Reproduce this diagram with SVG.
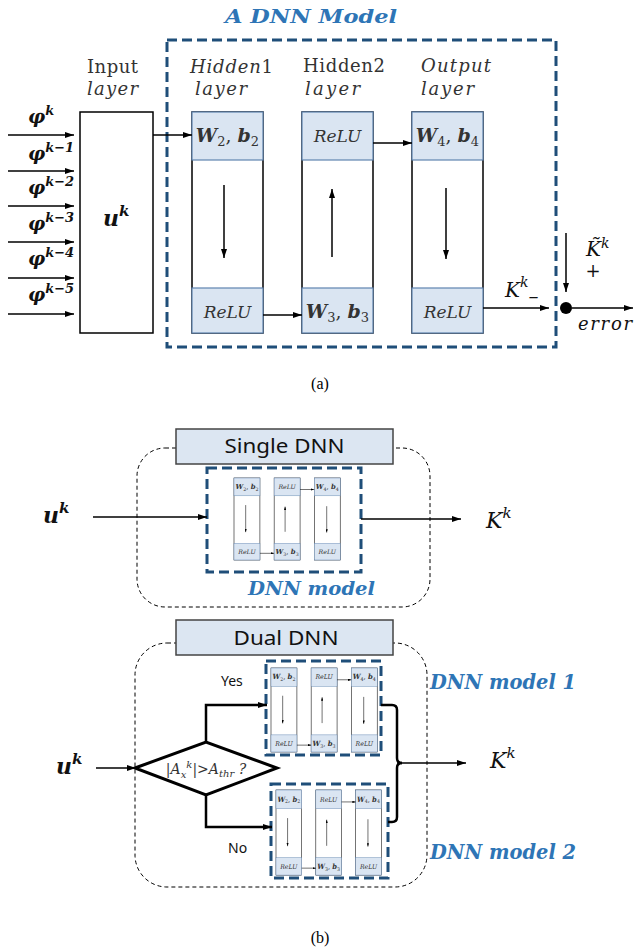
<svg xmlns="http://www.w3.org/2000/svg" width="635" height="950" viewBox="0 0 635 950">
<style>
.col{fill:#fff;stroke:#000;stroke-width:1.5}
.cell{fill:#dae5f2;stroke:#5f84b0;stroke-width:1.2}
.bd{fill:none;stroke:#1f4e79;stroke-width:3;stroke-dasharray:10 5}
.ln{fill:none;stroke:#000;stroke-width:1.5}
.thk{fill:none;stroke:#000;stroke-width:2.5}
.od{fill:none;stroke:#000;stroke-width:1;stroke-dasharray:4 3}
.lb{fill:#dce6f2;stroke:#444;stroke-width:1.5}
.m{font-family:"DejaVu Serif","Liberation Serif",serif;fill:#333}
.k{font-family:"DejaVu Serif","Liberation Serif",serif;fill:#111}
.it{font-style:italic}
.bi{font-weight:bold;font-style:italic}
.n{font-weight:normal;font-style:normal}
.ttl{font-family:"DejaVu Serif","Liberation Serif",serif;font-weight:bold;font-style:italic;fill:#2e75b6}
.sans{font-family:"Noto Sans","Liberation Sans",sans-serif;fill:#111}
.cap{font-family:"Liberation Serif",serif;font-size:16px;fill:#000}
</style>
<defs>
<marker id="ah" markerWidth="9" markerHeight="6" refX="9" refY="3" orient="auto" markerUnits="userSpaceOnUse"><path d="M0,0 L9,3 L0,6 Z" fill="#000"/></marker>
</defs>

<!-- (a) -->
<g id="a-title"><text class="ttl" x="225" y="23" font-size="19" textLength="172" lengthAdjust="spacingAndGlyphs">A DNN Model</text></g>
<g id="dnn-model-a"><rect class="bd" x="167" y="40" width="389" height="307"/></g>

<g id="inputs">
<text class="k bi" x="28" y="123" font-size="19">φ<tspan font-size="13" dy="-8">k</tspan></text>
<text class="k bi" x="28" y="160" font-size="19">φ<tspan font-size="13" dy="-8">k−1</tspan></text>
<text class="k bi" x="28" y="194" font-size="19">φ<tspan font-size="13" dy="-8">k−2</tspan></text>
<text class="k bi" x="28" y="230" font-size="19">φ<tspan font-size="13" dy="-8">k−3</tspan></text>
<text class="k bi" x="28" y="265" font-size="19">φ<tspan font-size="13" dy="-8">k−4</tspan></text>
<text class="k bi" x="28" y="301" font-size="19">φ<tspan font-size="13" dy="-8">k−5</tspan></text>
</g>

<g id="input-layer">
<text class="m" x="87" y="73" font-size="18" textLength="51">Input</text>
<text class="m it" x="87" y="95" font-size="18" textLength="51">layer</text>
<rect class="col" x="80" y="112" width="73" height="221"/>
<text class="k bi" x="103" y="226" font-size="22">u<tspan font-size="15" dy="-10">k</tspan></text>
</g>

<g id="layer-labels">
<text class="m it" x="190" y="73" font-size="18" textLength="83">Hidden<tspan class="n">1</tspan></text>
<text class="m it" x="195" y="95" font-size="18" textLength="52">layer</text>
<text class="m" x="303" y="72" font-size="18" textLength="82">Hidden2</text>
<text class="m it" x="305" y="95" font-size="18" textLength="55">layer</text>
<text class="m it" x="421" y="72" font-size="18" textLength="70">Output</text>
<text class="m it" x="421" y="95" font-size="18" textLength="53">layer</text>
</g>

<g transform="translate(192,112)">
<g id="cols">
<g id="hidden1">
<rect class="col" x="0" y="0" width="71" height="221"/>
<rect class="cell" x="0" y="0" width="71" height="48"/>
<rect class="cell" x="0" y="176" width="71" height="45"/>
<text class="m bi" x="35.5" y="30" font-size="19" text-anchor="middle">W<tspan class="n" font-size="13" dy="4">2</tspan><tspan class="n" dy="-4">, </tspan>b<tspan class="n" font-size="13" dy="4">2</tspan></text>
<text class="m it" x="35.5" y="206" font-size="17" text-anchor="middle">ReLU</text>
<line class="ln" x1="32" y1="73" x2="32" y2="146" marker-end="url(#ah)"/>
</g>
<g id="hidden2">
<rect class="col" x="110" y="0" width="71" height="221"/>
<rect class="cell" x="110" y="0" width="71" height="48"/>
<rect class="cell" x="110" y="176" width="71" height="45"/>
<text class="m it" x="145.5" y="30" font-size="17" text-anchor="middle">ReLU</text>
<text class="m bi" x="145.5" y="206" font-size="19" text-anchor="middle">W<tspan class="n" font-size="13" dy="4">3</tspan><tspan class="n" dy="-4">, </tspan>b<tspan class="n" font-size="13" dy="4">3</tspan></text>
<line class="ln" x1="140" y1="145" x2="140" y2="77" marker-end="url(#ah)"/>
</g>
<g id="output-layer">
<rect class="col" x="220" y="0" width="71" height="221"/>
<rect class="cell" x="220" y="0" width="71" height="48"/>
<rect class="cell" x="220" y="176" width="71" height="45"/>
<text class="m bi" x="255.5" y="30" font-size="19" text-anchor="middle">W<tspan class="n" font-size="13" dy="4">4</tspan><tspan class="n" dy="-4">, </tspan>b<tspan class="n" font-size="13" dy="4">4</tspan></text>
<text class="m it" x="255.5" y="206" font-size="17" text-anchor="middle">ReLU</text>
<line class="ln" x1="254" y1="76" x2="254" y2="147" marker-end="url(#ah)"/>
</g>
<g id="inner-connectors">
<line class="ln" x1="71" y1="203" x2="110" y2="203" marker-end="url(#ah)"/>
<line class="ln" x1="181" y1="31" x2="220" y2="31" marker-end="url(#ah)"/>
</g>
</g>
</g>

<g id="sum-node"><circle cx="566" cy="308" r="6" fill="#000"/></g>

<g id="connectors-a">
<line class="ln" x1="8" y1="135" x2="74" y2="135" marker-end="url(#ah)"/>
<line class="ln" x1="8" y1="171" x2="74" y2="171" marker-end="url(#ah)"/>
<line class="ln" x1="8" y1="206" x2="74" y2="206" marker-end="url(#ah)"/>
<line class="ln" x1="8" y1="242" x2="74" y2="242" marker-end="url(#ah)"/>
<line class="ln" x1="8" y1="278" x2="74" y2="278" marker-end="url(#ah)"/>
<line class="ln" x1="8" y1="314" x2="74" y2="314" marker-end="url(#ah)"/>
<line class="ln" x1="153" y1="135" x2="192" y2="135" marker-end="url(#ah)"/>
<line class="ln" x1="483" y1="308" x2="549" y2="308" marker-end="url(#ah)"/>
<line class="ln" x1="566" y1="233" x2="566" y2="292" marker-end="url(#ah)"/>
<line class="ln" x1="572" y1="308" x2="633" y2="308" marker-end="url(#ah)"/>
</g>

<g id="a-labels">
<text class="k it" x="505" y="297" font-size="20">K<tspan font-size="14" dy="-10">k</tspan><tspan font-size="20" dy="16">–</tspan></text>
<text class="k it" x="586" y="256" font-size="20">K&#771;<tspan font-size="14" dy="-8">k</tspan></text>
<text class="k" x="593" y="277" font-size="18" text-anchor="middle">+</text>
<text class="k it" x="578" y="330" font-size="18" textLength="54">error</text>
<text class="cap" x="320" y="389" text-anchor="middle">(a)</text>
</g>

<!-- (b) single -->
<g id="single-dnn">
<rect class="od" x="137" y="448" width="293" height="159" rx="28"/>
<rect class="lb" x="176" y="429" width="217" height="35"/>
<text class="sans" x="284.5" y="453" font-size="19" text-anchor="middle" textLength="120" lengthAdjust="spacingAndGlyphs">Single DNN</text>
</g>
<g id="single-model">
<rect class="bd" x="207" y="468" width="154" height="104"/>
<use href="#cols" transform="translate(234,478) scale(0.365,0.371)"/>
<text class="ttl" x="248" y="595" font-size="19" textLength="127" lengthAdjust="spacingAndGlyphs">DNN model</text>
</g>
<g id="single-io">
<text class="k bi" x="43" y="523" font-size="22">u<tspan font-size="15" dy="-10">k</tspan></text>
<text class="k it" x="486" y="528" font-size="22">K<tspan font-size="15" dy="-10">k</tspan></text>
</g>
<g id="connectors-single">
<line class="ln" x1="93" y1="517" x2="207" y2="517" marker-end="url(#ah)"/>
<line class="ln" x1="361" y1="519" x2="461" y2="519" marker-end="url(#ah)"/>
</g>

<!-- (b) dual -->
<g id="dual-dnn">
<rect class="od" x="135" y="643" width="292" height="244" rx="32"/>
<rect class="lb" x="176" y="620" width="217" height="35"/>
<text class="sans" x="286" y="645" font-size="19" text-anchor="middle" textLength="105" lengthAdjust="spacingAndGlyphs">Dual DNN</text>
</g>
<g id="decision">
<polygon points="135,768 206,742 277,768 206,795" fill="#fff" stroke="#000" stroke-width="3" stroke-linejoin="miter"/>
<text class="m it" x="206" y="774" font-size="14" text-anchor="middle" fill="#444">|A<tspan font-size="10" dy="4">x</tspan><tspan font-size="10" dy="-10">k</tspan><tspan dy="6">|&gt;A</tspan><tspan font-size="10" dy="3">thr</tspan><tspan dy="-3"> ?</tspan></text>
</g>
<g id="dnn-model-1">
<rect class="bd" x="266" y="661" width="115" height="94"/>
<use href="#cols" transform="translate(271,668) scale(0.365,0.38)"/>
<text class="ttl" x="430" y="689" font-size="20" textLength="146" lengthAdjust="spacingAndGlyphs">DNN model 1</text>
</g>
<g id="dnn-model-2">
<rect class="bd" x="271" y="784" width="117" height="94"/>
<use href="#cols" transform="translate(276,790) scale(0.362,0.385)"/>
<text class="ttl" x="430" y="859" font-size="20" textLength="146" lengthAdjust="spacingAndGlyphs">DNN model 2</text>
</g>
<g id="dual-io">
<text class="k bi" x="56" y="774" font-size="22">u<tspan font-size="15" dy="-10">k</tspan></text>
<text class="k it" x="490" y="768" font-size="22">K<tspan font-size="15" dy="-10">k</tspan></text>
<text class="sans" x="221" y="686" font-size="14">Yes</text>
<text class="sans" x="228" y="853" font-size="14">No</text>
</g>
<g id="connectors-dual">
<line class="ln" x1="96" y1="768" x2="136" y2="768" marker-end="url(#ah)"/>
<path class="thk" d="M206,742 V705 H267" marker-end="url(#ah)"/>
<path class="thk" d="M206,795 V827 H272" marker-end="url(#ah)"/>
<path class="thk" d="M381,705 H392 Q397,705 397,710 V758 Q397,763 402,763"/>
<path class="thk" d="M388,822 H392 Q397,822 397,817 V768 Q397,763 402,763"/>
<line class="ln" x1="397" y1="763" x2="466" y2="763" marker-end="url(#ah)"/>
</g>
<g id="b-caption"><text class="cap" x="320" y="943" text-anchor="middle">(b)</text></g>
</svg>
